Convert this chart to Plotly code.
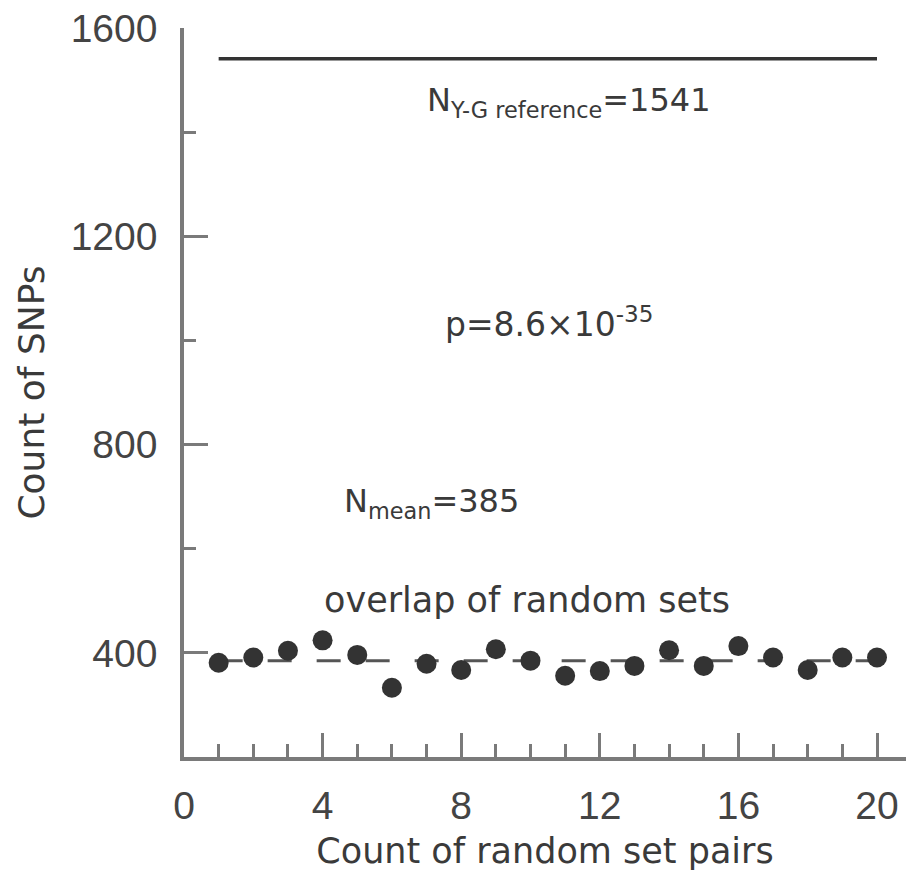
import plotly.graph_objects as go

# Overlap counts for 20 random set pairs
pair_index = list(range(1, 21))
overlap_counts = [381, 391, 404, 424, 396, 333, 379, 367, 407, 385,
                  356, 365, 375, 405, 375, 413, 391, 367, 391, 391]
mean_count = 385
reference_count = 1541

x_ticks = [0, 4, 8, 12, 16, 20]
y_ticks = [400, 800, 1200, 1600]

AXIS_GRAY = "#7a7a7a"
INK = "#3a3a3a"
TEXT_FONT = "DejaVu Sans"
TICK_FONT = "Liberation Sans"

fig = go.Figure()

# Y-G reference level
fig.add_trace(go.Scatter(
    x=[pair_index[0], pair_index[-1]], y=[reference_count, reference_count],
    mode="lines", line=dict(color="#333333", width=3.5),
    hoverinfo="skip", showlegend=False))

# mean of the random overlaps
fig.add_trace(go.Scatter(
    x=[pair_index[0], pair_index[-1]], y=[mean_count, mean_count],
    mode="lines", line=dict(color="#555555", width=3, dash="24px,25px"),
    hoverinfo="skip", showlegend=False))

# individual random-pair overlaps
fig.add_trace(go.Scatter(
    x=pair_index, y=overlap_counts, mode="markers",
    marker=dict(size=20, color="#333333", line=dict(width=0)),
    cliponaxis=False, showlegend=False))

annotations = [
    dict(x=6.96, y=1457, text="N<sub>Y-G reference</sub>=1541",
         font=dict(size=32)),
    dict(x=7.48, y=1035, text="p=8.6×10<sup>-35</sup>", font=dict(size=33)),
    dict(x=4.56, y=688, text="N<sub>mean</sub>=385", font=dict(size=32)),
    dict(x=3.98, y=502, text="overlap of random sets", font=dict(size=35)),
]
for a in annotations:
    a.update(xref="x", yref="y", xanchor="left", yanchor="middle",
             showarrow=False)
    a["font"].update(family=TEXT_FONT, color=INK)

fig.update_layout(
    width=906, height=873,
    margin=dict(l=184, r=0, t=28, b=116),
    paper_bgcolor="white", plot_bgcolor="white",
    font=dict(family=TEXT_FONT, color=INK),
    annotations=annotations,
)

fig.update_xaxes(
    range=[0, 20.837], showgrid=False, zeroline=False,
    showline=True, linecolor=AXIS_GRAY, linewidth=3.5,
    tickmode="array", tickvals=x_ticks, ticktext=[str(v) for v in x_ticks],
    ticks="inside", ticklen=24, tickwidth=2.5, tickcolor=AXIS_GRAY,
    minor=dict(ticks="inside", ticklen=13, tickwidth=2.5,
               tickcolor=AXIS_GRAY, dtick=1, tick0=0, showgrid=False),
    tickfont=dict(family=TICK_FONT, size=39, color="#444444"),
    ticklabelstandoff=11,
    title=dict(text="Count of random set pairs",
               font=dict(family=TEXT_FONT, size=35, color=INK), standoff=14),
)

fig.update_yaxes(
    range=[200, 1600], showgrid=False, zeroline=False,
    showline=True, linecolor=AXIS_GRAY, linewidth=3.5,
    tickmode="array", tickvals=y_ticks, ticktext=[str(v) for v in y_ticks],
    ticks="inside", ticklen=24, tickwidth=2.5, tickcolor=AXIS_GRAY,
    minor=dict(ticks="inside", ticklen=12, tickwidth=2.5,
               tickcolor=AXIS_GRAY, dtick=200, tick0=0, showgrid=False),
    tickfont=dict(family=TICK_FONT, size=39, color="#444444"),
    ticklabelstandoff=15,
    title=dict(text="Count of SNPs",
               font=dict(family=TEXT_FONT, size=36, color=INK), standoff=16),
)

fig.write_html("out.html")
